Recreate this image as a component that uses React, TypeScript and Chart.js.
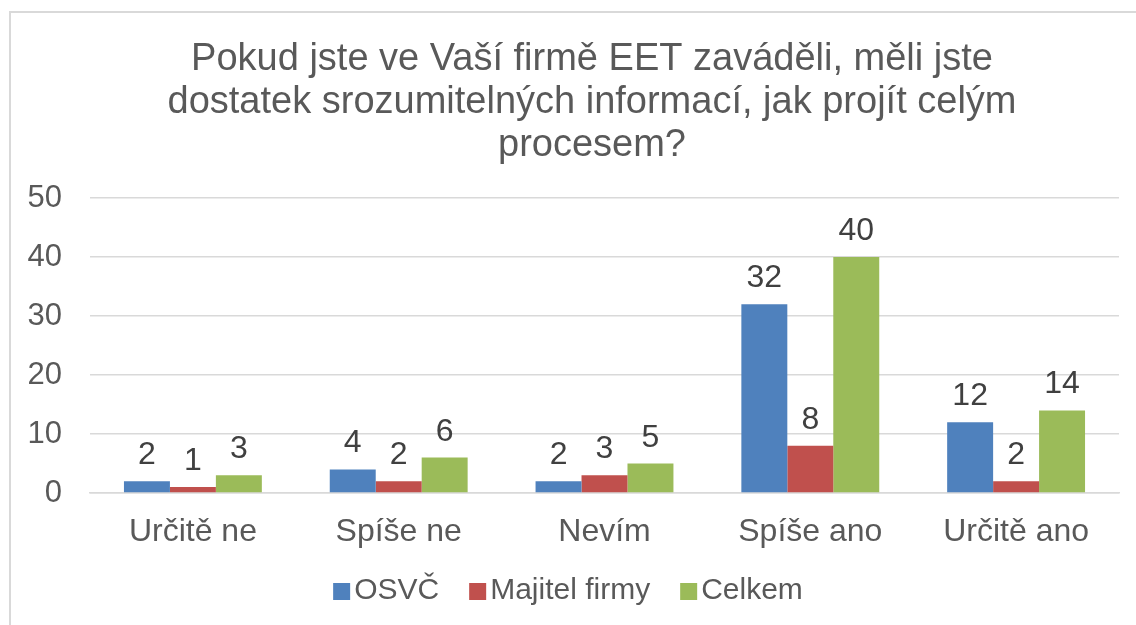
import React, { useEffect, useRef } from "react";
import { Chart, registerables } from "chart.js";

Chart.register(...registerables);

const categories = ["Určitě ne", "Spíše ne", "Nevím", "Spíše ano", "Určitě ano"];
const osvc = [2, 4, 2, 32, 12];
const majitel = [1, 2, 3, 8, 2];
const celkem = [3, 6, 5, 40, 14];
const seriesNames = ["OSVČ", "Majitel firmy", "Celkem"];
const seriesColors = ["#4F81BD", "#C0504D", "#9BBB59"];
const titleLines = [
  "Pokud jste ve Vaší firmě EET zaváděli, měli jste",
  "dostatek srozumitelných informací, jak projít celým",
  "procesem?",
];
const yMin = 0;
const yMax = 50;
const yStep = 10;

const FONT = '"Liberation Sans", Arial, sans-serif';

const titlePlugin = {
  id: "customTitle",
  afterDraw(chart: any) {
    const ctx = chart.ctx;
    ctx.save();
    ctx.font = `38px ${FONT}`;
    ctx.fillStyle = "#595959";
    ctx.textAlign = "center";
    ctx.textBaseline = "middle";
    titleLines.forEach((line, i) => {
      ctx.fillText(line, 592, 60 + i * 43);
    });
    ctx.restore();
  },
};

const dataLabelPlugin = {
  id: "dataLabels",
  afterDatasetsDraw(chart: any) {
    const ctx = chart.ctx;
    ctx.save();
    ctx.font = `32px ${FONT}`;
    ctx.fillStyle = "#404040";
    ctx.textAlign = "center";
    ctx.textBaseline = "alphabetic";
    chart.data.datasets.forEach((ds: any, di: number) => {
      const meta = chart.getDatasetMeta(di);
      meta.data.forEach((bar: any, i: number) => {
        ctx.fillText(String(ds.data[i]), bar.x, bar.y - 17);
      });
    });
    ctx.restore();
  },
};

const legendPlugin = {
  id: "customLegend",
  afterDraw(chart: any) {
    const ctx = chart.ctx;
    ctx.save();
    ctx.font = `30px ${FONT}`;
    const box = 17;
    const gap = 4;
    const spacing = 30;
    const items = chart.data.datasets.map((ds: any) => ({
      label: ds.label,
      color: ds.backgroundColor,
      w: ctx.measureText(ds.label).width,
    }));
    const total =
      items.reduce((s: number, it: any) => s + box + gap + it.w, 0) +
      spacing * (items.length - 1);
    let x = chart.width / 2 - total / 2;
    const cy = 591;
    ctx.textBaseline = "middle";
    ctx.textAlign = "left";
    items.forEach((it: any) => {
      ctx.fillStyle = it.color;
      ctx.fillRect(x, cy - 8, box, 17);
      ctx.fillStyle = "#595959";
      ctx.fillText(it.label, x + box + gap, cy);
      x += box + gap + it.w + spacing;
    });
    ctx.restore();
  },
};

export default function App() {
  const ref = useRef<HTMLCanvasElement | null>(null);

  useEffect(() => {
    if (!ref.current) return;
    Chart.defaults.font.family = FONT;
    const chart = new Chart(ref.current, {
      type: "bar",
      data: {
        labels: categories,
        datasets: [osvc, majitel, celkem].map((d, i) => ({
          label: seriesNames[i],
          data: d,
          backgroundColor: seriesColors[i],
          borderWidth: 0,
          categoryPercentage: 0.67,
          barPercentage: 1,
        })),
      },
      options: {
        responsive: false,
        animation: false,
        layout: { padding: { top: 198, left: 0, right: 17, bottom: 0 } },
        plugins: {
          legend: { display: false },
          title: { display: false },
          tooltip: { enabled: false },
        },
        scales: {
          x: {
            grid: { display: false, drawTicks: false },
            border: { display: true, color: "#d9d9d9", width: 1.5 },
            ticks: {
              color: "#595959",
              font: { size: 32, family: FONT },
              padding: 20,
              maxRotation: 0,
            },
            afterFit(scale: any) {
              scale.height = 132;
            },
          },
          y: {
            min: yMin,
            max: yMax,
            grid: { color: "#d9d9d9", lineWidth: 1.5, drawTicks: false },
            border: { display: false },
            ticks: {
              stepSize: yStep,
              color: "#595959",
              font: { size: 31, family: FONT },
              padding: 28,
            },
            afterFit(scale: any) {
              scale.width = 90;
            },
          },
        },
      },
      plugins: [titlePlugin, dataLabelPlugin, legendPlugin],
    } as any);
    return () => chart.destroy();
  }, []);

  return (
    <>
      <div
        style={{
          position: "absolute",
          left: 9,
          top: 11,
          width: 1200,
          height: 700,
          border: "2px solid #d9d9d9",
          boxSizing: "border-box",
        }}
      />
      <div style={{ position: "absolute", left: 0, top: 0, width: 1136, height: 625, overflow: "hidden" }}>
        <canvas ref={ref} width={1136} height={625} style={{ display: "block" }} />
      </div>
    </>
  );
}
